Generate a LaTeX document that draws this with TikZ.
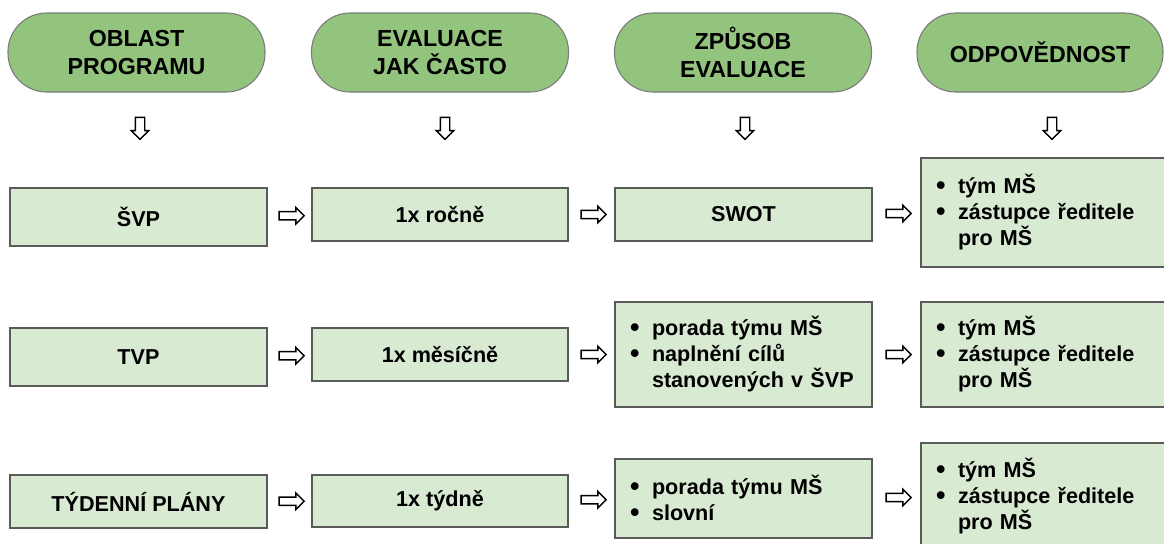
\documentclass[tikz,border=0pt]{standalone}
\usepackage{fontspec}
\setmainfont{Liberation Sans}
\usepackage{tikz}
\usetikzlibrary{%
	calc,%
	shapes.arrows%
}
\definecolor{headgreen}{HTML}{93C47D}
\definecolor{headline}{HTML}{7A7A7A}
\definecolor{boxgreen}{HTML}{D9EAD3}
\definecolor{boxline}{HTML}{5A5A5A}
\newcommand{\bitem}[1]{\makebox[16.5pt][l]{\raisebox{-0.3pt}{\scalebox{1.25}{•}}}#1}
\newcommand{\bcont}[1]{\hspace*{16.5pt}#1}

\begin{document}
\begin{tikzpicture}[x=0.75pt,y=-0.75pt,
		header/.style={draw=headline, fill=headgreen, line width=0.8pt, rounded corners=29pt,
			minimum width=192.75pt, minimum height=59.25pt, align=center,
			font=\bfseries\fontsize{17.4}{21}\selectfont},
		stepbox/.style={draw=boxline, fill=boxgreen, line width=1.5pt, minimum width=192.75pt,
			align=center, font=\bfseries\fontsize{16.2}{19.5}\selectfont},
		listbox/.style={stepbox, align=left, inner xsep=11.25pt},
		rarrow/.style={single arrow, draw=black, fill=white, line width=1.1pt, inner sep=0pt,
			inner ysep=2.6pt, minimum height=18.75pt, single arrow head extend=3pt},
		darrow/.style={rarrow, rotate=-90, inner ysep=3pt, minimum height=16.5pt}]
				% TikZ code for the evaluation plan
				\useasboundingbox (0,0) rectangle (1164,543);
				\clip (0,0) rectangle (1164,543);
				% headers
				\node[header] (h1) at (136.5,52.5) {OBLAST\\PROGRAMU};
				\node[header] (h2) at (440,52.5) {EVALUACE\\JAK ČASTO};
				\node[header] (h3) at (743,52.5) {ZPŮSOB\\EVALUACE};
				\node[header, minimum width=184.5pt] (h4) at (1040,52.5) {ODPOVĚDNOST};
				\foreach \x/\n in {140/1,445/2,745/3,1052/4}
				\node[darrow] (d\n) at (\x,126) {};
				% row 1
				\node[stepbox, minimum height=43.5pt] (b11) at (138.5,217) {ŠVP};
				\node[stepbox, minimum width=192pt, minimum height=39.75pt] (b12) at (440,214.5) {1x ročně};
				\node[stepbox, minimum height=39.75pt] (b13) at (743.5,214.5) {SWOT};
				\node[listbox, text width=172.5pt, minimum height=81.75pt] (b14) at (1051,212.5)
					{\bitem{tým MŠ}\\\bitem{zástupce ředitele}\\\bcont{pro MŠ}};
				% row 2
				\node[stepbox, minimum height=43.5pt] (b21) at (138.5,357) {TVP};
				\node[stepbox, minimum width=192pt, minimum height=39.75pt] (b22) at (440,354.5) {1x měsíčně};
				\node[listbox, text width=170.25pt, minimum height=78.75pt] (b23) at (743.5,354.5)
					{\bitem{porada týmu MŠ}\\\bitem{naplnění cílů}\\\bcont{stanovených v ŠVP}};
				\node[listbox, text width=172.5pt, minimum height=78.75pt] (b24) at (1051,354.5)
					{\bitem{tým MŠ}\\\bitem{zástupce ředitele}\\\bcont{pro MŠ}};
				% row 3
				\node[stepbox, minimum height=39.75pt] (b31) at (138.5,501.5) {TÝDENNÍ PLÁNY};
				\node[stepbox, minimum width=192pt, minimum height=39pt] (b32) at (440,501) {1x týdně};
				\node[listbox, text width=170.25pt, minimum height=59.25pt] (b33) at (743.5,498.5)
					{\bitem{porada týmu MŠ}\\\bitem{slovní}};
				\node[listbox, text width=172.5pt, minimum height=80.25pt] (b34) at (1051,496.5)
					{\bitem{tým MŠ}\\\bitem{zástupce ředitele}\\\bcont{pro MŠ}};
				% arrows between the boxes
				\foreach \r in {1,2,3}
				\foreach \c/\d in {1/2,2/3,3/4}
				\node[rarrow] (a\r\c) at ($(b\r\c.east)!0.5!(b\r\d.west)$) {};
			\end{tikzpicture}
\end{document}
